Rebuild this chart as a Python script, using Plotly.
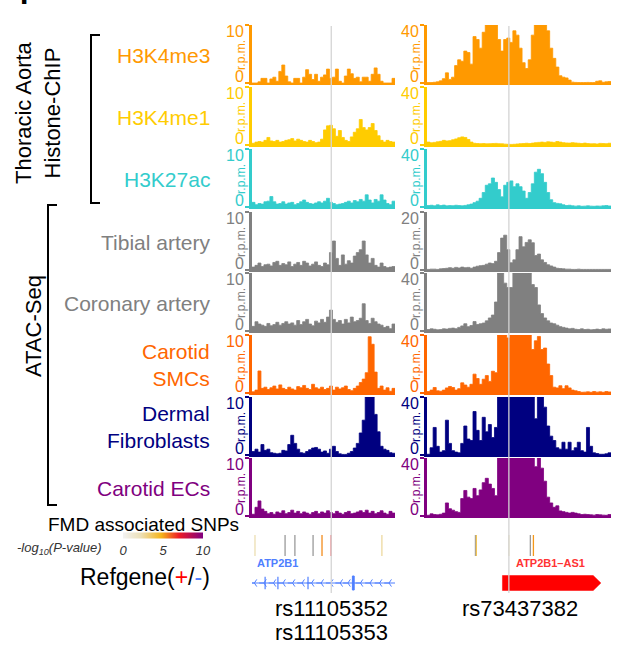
import plotly.graph_objects as go

W, H = 625, 645
FONT = "Arial, Liberation Sans, sans-serif"

# ---------------- data ----------------
track_labels = ["H3K4me3", "H3K4me1", "H3K27ac", "Tibial artery", "Coronary artery",
                "Carotid<br>SMCs", "Dermal<br>Fibroblasts", "Carotid ECs"]
track_colors = ["#FF9900", "#FFCC00", "#33CCCC", "#808080", "#808080",
                "#FF6600", "#000080", "#800080"]
left_ymax = [10, 10, 10, 10, 10, 10, 10, 10]
right_ymax = [40, 40, 40, 20, 40, 40, 40, 40]

# left locus (48 bins), r.p.m.
left_h3k4me3 = [0, 0, 0.2, 0.8, 0.8, 0, 0.7, 1.0, 0.3, 2.0, 3.1, 1.2, 0.2, 0, 0.8, 0.8, 0, 1.0, 2.3, 1.5,
                0.6, 1.5, 0.3, 1.0, 1.4, 2.4, 0.8, 1.0, 2.4, 0.3, 0, 1.2, 2.4, 1.6, 0.8, 1.0, 0.2, 1.0, 1.0, 0.3,
                1.5, 2.6, 1.5, 0.3, 0, 0, 0, 0.8]
left_h3k4me1 = [0.3, 0.5, 0.6, 0.5, 0.8, 1.3, 0.7, 0.6, 0.8, 0.5, 0.6, 0.8, 0.9, 1.1, 0.7, 1.0, 0.8, 0.6, 0.5, 0.8,
                0.6, 0.4, 0.5, 1.0, 2.6, 3.3, 3.4, 2.8, 1.5, 2.5, 1.3, 0.8, 0.6, 1.4, 2.2, 2.8, 4.4, 3.0, 2.6, 3.0,
                3.7, 2.5, 1.6, 0.8, 0.5, 0.8, 0.6, 0.5]
left_h3k27ac = [0.8, 0.4, 0.6, 0.5, 0.9, 1.0, 1.8, 0.9, 0.5, 0.6, 0.9, 0.5, 0.7, 0.8, 0.4, 0.6, 0.9, 1.2, 0.8, 0.6,
                0.5, 0.7, 0.9, 0.7, 1.0, 1.5, 0.8, 0.6, 0.4, 0.5, 0.6, 0.8, 1.0, 0.7, 1.1, 0.9, 1.3, 1.0, 2.1, 1.2,
                0.7, 1.3, 1.0, 2.1, 1.2, 0.6, 0.4, 1.0]
left_tibial = [0.5, 0.8, 1.2, 0.6, 0.9, 1.0, 0.7, 1.3, 1.5, 0.8, 1.1, 0.9, 1.4, 0.6, 1.0, 1.3, 0.8, 1.5, 1.2, 0.7,
               1.0, 1.4, 0.8, 0.6, 1.2, 0.9, 3.0, 5.0, 2.0, 0.8, 2.6, 1.0, 1.6, 1.2, 2.4, 3.0, 3.5, 5.0, 2.6, 1.2,
               2.0, 0.8, 0.5, 1.2, 0.6, 0.4, 0.5, 0.6]
left_coronary = [0.8, 1.6, 1.2, 1.0, 0.8, 1.3, 0.9, 1.1, 1.5, 1.0, 1.3, 1.6, 1.2, 1.4, 1.0, 1.8, 1.1, 1.6, 2.0, 1.2,
                 0.9, 1.7, 1.4, 2.0, 1.5, 2.4, 3.6, 2.0, 1.5, 1.8, 1.2, 2.0, 1.4, 2.4, 1.6, 1.8, 2.2, 4.7, 1.8, 1.3,
                 2.2, 1.6, 1.2, 1.0, 0.6, 0.8, 0.4, 1.2]
left_carotid_smc = [0.2, 0.5, 3.8, 0.8, 1.0, 0.6, 0.9, 1.2, 0.7, 1.4, 0.8, 0.6, 1.0, 0.7, 0.5, 1.1, 0.9, 1.3, 0.8, 0.6,
                    1.5, 0.9, 0.7, 1.0, 0.6, 0.8, 1.2, 0.5, 1.0, 0.7, 0.9, 1.2, 0.6, 0.4, 0.8, 1.2, 1.8, 2.4, 3.5, 9.7,
                    8.4, 3.6, 0.8, 1.2, 0.5, 0.9, 0.3, 0.8]
left_dermal_fb = [0.6, 1.0, 0.5, 1.8, 0.8, 1.0, 0.4, 0.3, 0.2, 0.3, 0.8, 0.7, 1.8, 3.4, 2.0, 1.0, 0.4, 0.3, 0.6, 0.9,
                  1.2, 1.3, 1.0, 0.5, 0.7, 0.3, 1.0, 1.5, 0.6, 0.2, 0.1, 0.1, 0.3, 0.6, 1.2, 2.0, 3.8, 6.0, 10, 10,
                  10, 7.0, 4.0, 1.5, 1.0, 0.8, 0.4, 0.3]
left_carotid_ec = [0.3, 1.5, 2.6, 1.2, 0.8, 0.4, 0.6, 0.3, 0.7, 0.5, 0.9, 0.4, 0.6, 1.0, 0.5, 0.8, 0.4, 0.7, 0.5, 0.3,
                   0.6, 0.8, 0.4, 0.7, 0.5, 0.9, 0.6, 0.4, 0.8, 0.5, 0.3, 0.6, 0.8, 0.4, 0.5, 0.7, 0.9, 0.6, 1.0, 0.5,
                   0.8, 0.4, 0.6, 0.9, 0.5, 0.3, 0.8, 0.5]

# right locus (60 bins), r.p.m.
right_h3k4me3 = [0.3, 0.3, 0.5, 0.8, 1.5, 3.0, 7.0, 2.5, 4.0, 12, 16, 15, 22, 21, 13, 32, 30, 24, 35, 40,
                 40, 40, 40, 30, 22, 30, 31, 28, 36, 33, 24, 14, 10, 16, 33, 40, 40, 40, 40, 36,
                 24, 17, 11, 5, 4, 3.5, 2, 0.6, 0.4, 0.3, 0.3, 0.3, 0.4, 0.3, 0.3, 1.2, 1.5, 0.5, 0.8, 1.0]
right_h3k4me1 = [2.0, 1.5, 1.8, 2.2, 2.5, 3.2, 2.8, 3.0, 3.6, 4.2, 5.0, 5.6, 5.2, 3.8, 2.0, 1.2, 1.0, 0.9, 1.0, 0.8,
                 0.9, 1.0, 1.1, 0.9, 0.8, 0.6, 0.5, 0.4, 0.5, 0.7, 0.9, 1.0, 1.2, 1.0, 1.3, 1.6, 1.8, 2.0, 1.8, 2.2,
                 2.0, 1.8, 2.4, 2.0, 1.6, 1.4, 1.3, 1.6, 1.4, 1.2, 1.0, 1.3, 1.0, 0.8, 0.9, 0.7, 1.1, 1.0, 0.9, 1.2]
right_h3k27ac = [1.0, 1.2, 0.8, 1.5, 1.0, 1.3, 0.8, 1.0, 0.9, 1.2, 1.0, 0.8, 1.1, 1.5, 2.0, 3.0, 4.0, 6.0, 10, 15,
                 16, 20, 17, 12, 7, 15, 17, 18, 14, 16, 14, 11, 6, 10, 16, 24, 26, 23, 17, 10,
                 5, 3, 2.5, 2.2, 1.5, 1.0, 1.2, 0.8, 0.6, 0.8, 0.5, 0.6, 0.8, 0.6, 0.5, 0.7, 0.6, 0.8, 1.0, 0.7]
right_tibial = [0.2, 0.3, 0.3, 0.2, 0.4, 0.5, 0.6, 0.8, 0.6, 0.9, 0.7, 1.0, 0.8, 0.9, 0.6, 1.0, 1.3, 1.5, 1.6, 2.0,
                2.4, 2.2, 3.0, 6.0, 11, 12, 7, 2.5, 3.5, 7.0, 11.5, 8, 9.5, 10.4, 9.4, 5, 5.5, 3.5, 2.6, 1.8,
                1.4, 1.0, 0.6, 0.5, 0.4, 0.3, 0.3, 0.2, 0.2, 0.3, 0.2, 0.2, 0.2, 0.2, 0.2, 0.2, 0.2, 0.2, 0.2, 0.2]
right_coronary = [1.0, 1.5, 1.2, 0.8, 1.0, 1.5, 1.3, 1.8, 2.0, 1.6, 2.5, 3.5, 5.0, 3.0, 3.8, 6.5, 4.5, 5.0, 5.5, 7.0,
                  9.0, 11, 20, 40, 40, 33, 30, 30, 40, 40, 40, 40, 40, 40, 32, 30, 18, 12, 9, 7,
                  5.5, 5.0, 4.0, 3.0, 2.5, 2.0, 1.5, 1.8, 1.2, 1.0, 1.5, 1.0, 1.2, 0.8, 1.0, 1.3, 1.0, 1.5, 1.2, 1.4]
right_carotid_smc = [1.0, 2.0, 3.8, 1.5, 1.2, 2.0, 3.5, 4.5, 3.8, 2.0, 3.0, 7.0, 5.5, 4.0, 6.0, 13, 10, 6.0, 9.5, 12,
                     8.0, 15, 14, 40, 40, 40, 38, 40, 40, 40, 40, 40, 40, 40, 30, 36, 39, 30, 31, 20,
                     12, 4.0, 3.5, 5.0, 3.0, 5.0, 3.5, 2.0, 1.5, 1.0, 0.5, 0.6, 0.8, 0.5, 1.0, 0.6, 0.8, 0.5, 1.0, 0.7]
right_dermal_fb = [0.5, 5, 19, 6, 2, 3, 24, 8, 3, 2, 1.5, 8, 20, 11, 10, 30, 17, 10, 26, 16,
                   21, 12, 19, 40, 40, 40, 40, 40, 40, 40, 40, 40, 40, 40, 40, 25, 40, 40, 33, 20,
                   13, 10, 5, 4, 8.8, 4, 8.8, 3, 5, 8.8, 3, 2, 19, 6, 1.5, 1.0, 0.5, 0.5, 0.8, 1.5]
right_carotid_ec = [0.5, 1.5, 1.0, 0.8, 1.2, 2.0, 9, 5, 4, 3, 2.5, 12, 17.6, 13, 12, 19, 14, 18, 23, 26,
                    22, 19, 14, 40, 40, 40, 40, 40, 40, 40, 40, 40, 40, 40, 40, 34, 40, 33, 24, 13,
                    9, 6, 7, 3.5, 3, 2.5, 2, 2.5, 2, 1.5, 1, 1.2, 1, 0.8, 0.6, 1.0, 0.8, 0.6, 0.5, 1.0]

left_signals = [left_h3k4me3, left_h3k4me1, left_h3k27ac, left_tibial, left_coronary,
                left_carotid_smc, left_dermal_fb, left_carotid_ec]
right_signals = [right_h3k4me3, right_h3k4me1, right_h3k27ac, right_tibial, right_coronary,
                 right_carotid_smc, right_dermal_fb, right_carotid_ec]

# FMD associated SNPs (position in bin units, -log10 P; None = not coloured)
left_snp_pos = [1.0, 11.1, 14.4, 20.5, 23.5, 26.6, 43.6]
left_snp_logp = [2.3, None, None, None, 5.4, 7.0, 2.6]
right_snp_pos = [15.8, 16.1, 26.7, 33.7, 34.7]
right_snp_logp = [None, 3.8, 2.0, None, 5.2]
lead_snp_left = 26.6
lead_snp_right = 26.7
lead_snp_names_left = ["rs11105352", "rs11105353"]
lead_snp_names_right = ["rs73437382"]

# Refgene
atp2b1_span = [0, 48]
atp2b1_exons = [4.4, 8.7, 18.8]
atp2b1_big_exon = [33.7, 34.3]
atp2b1_chevrons = [0.8, 4.0, 7.2, 10.4, 13.6, 16.8, 20.0, 23.2, 26.4, 29.6, 32.2, 36.4, 39.6, 42.8, 46.0]
as1_span = [24.6, 54.2, 56.7]

pval_colorscale = [[0, "#f2f2f2"], [0.22, "#ece0b8"], [0.48, "#f5b418"],
                   [0.7, "#ee1c25"], [1, "#800080"]]

# ---------------- geometry (pixels) ----------------
track_top_px = [25, 87, 149, 212, 273, 335, 397, 458]
track_h = 58
panel_px = [(252, 395), (427, 611)]
snp_row_px = (535, 556)
gene_row_px = (557, 600)


def px_x(p):
    return p / W


def px_y(p):
    return 1 - p / H


def ids(k):
    s = "" if k == 1 else str(k)
    return "xaxis" + s, "yaxis" + s, "x" + s, "y" + s


layout_axes = {}
traces = []
annotations = []
shapes = []
k = 0
first_axis_of_panel = []

for p, (x0, x1) in enumerate(panel_px):
    sigs = left_signals if p == 0 else right_signals
    ymaxs = left_ymax if p == 0 else right_ymax
    for i in range(8):
        k += 1
        xa, ya, xr, yr = ids(k)
        if i == 0:
            first_axis_of_panel.append(xr)
        col = track_colors[i]
        top = track_top_px[i]
        bot = top + track_h
        vals = sigs[i]
        n = len(vals)
        ymax = ymaxs[i]
        layout_axes[xa] = dict(domain=[px_x(x0), px_x(x1)], range=[0, n], anchor=yr,
                               showline=True, linecolor=col, linewidth=1.5,
                               showticklabels=False, ticks="", showgrid=False, zeroline=False)
        layout_axes[ya] = dict(domain=[px_y(bot), px_y(top)], range=[0, ymax], anchor=xr,
                               showline=True, linecolor=col, linewidth=3, ticks="outside",
                               ticklen=4, tickwidth=2, tickcolor=col, tickvals=[0, ymax],
                               showticklabels=False, showgrid=False, zeroline=False)
        traces.append(go.Scatter(x=list(range(n)) + [n], y=list(vals) + [vals[-1]],
                                 xaxis=xr, yaxis=yr, mode="lines",
                                 line=dict(color=col, width=0.8, shape="hv"),
                                 fill="tozeroy", fillcolor=col, hoverinfo="skip"))
        annotations.append(dict(x=px_x(x0 - 6), y=px_y(top - 4), xref="paper", yref="paper",
                                text=str(ymax), showarrow=False, xanchor="right", yanchor="top",
                                font=dict(size=16, color=col, family=FONT)))
        annotations.append(dict(x=px_x(x0 - 6), y=px_y(bot + 4), xref="paper", yref="paper",
                                text="0", showarrow=False, xanchor="right", yanchor="bottom",
                                font=dict(size=16, color=col, family=FONT)))
        annotations.append(dict(x=px_x(x0 - 11), y=px_y((top + bot) / 2 + 1), xref="paper", yref="paper",
                                text="r.p.m.", showarrow=False, textangle=-90,
                                xanchor="center", yanchor="middle",
                                font=dict(size=12, color=col, family=FONT)))
        if p == 0:
            annotations.append(dict(x=px_x(212), y=px_y((top + bot) / 2 + 1), xref="paper", yref="paper",
                                    text=track_labels[i], showarrow=False, xanchor="right",
                                    yanchor="middle", align="right",
                                    font=dict(size=21, color=col, family=FONT)))

# SNP rows and gene rows
snp_axes = []
gene_axes = []
for p, (x0, x1) in enumerate(panel_px):
    n = len(left_signals[0]) if p == 0 else len(right_signals[0])
    for row, store in ((snp_row_px, snp_axes), (gene_row_px, gene_axes)):
        k += 1
        xa, ya, xr, yr = ids(k)
        store.append((xr, yr))
        layout_axes[xa] = dict(domain=[px_x(x0), px_x(x1)], range=[0, n], anchor=yr, visible=False)
        yrange = [0, 1] if row is snp_row_px else [0, row[1] - row[0]]
        layout_axes[ya] = dict(domain=[px_y(row[1]), px_y(row[0])], range=yrange, anchor=xr, visible=False)

# SNP ticks
for p, (pos, logp) in enumerate(((left_snp_pos, left_snp_logp), (right_snp_pos, right_snp_logp))):
    xr, yr = snp_axes[p]
    cx = [x for x, v in zip(pos, logp) if v is not None]
    cv = [v for v in logp if v is not None]
    gx = [x for x, v in zip(pos, logp) if v is None]
    traces.append(go.Scatter(x=gx, y=[0.5] * len(gx), xaxis=xr, yaxis=yr, mode="markers",
                             marker=dict(symbol="line-ns-open", size=15, color="#9a9a9a",
                                         line=dict(width=1.3)), hoverinfo="skip"))
    traces.append(go.Scatter(
        x=cx, y=[0.5] * len(cx), xaxis=xr, yaxis=yr, mode="markers", hoverinfo="skip",
        marker=dict(symbol="line-ns-open", size=15, color=cv, colorscale=pval_colorscale,
                    cmin=0, cmax=10, line=dict(width=1.3), showscale=(p == 0),
                    colorbar=dict(orientation="h", x=px_x(163), xanchor="center",
                                  y=px_y(542.5), yanchor="middle", len=80, lenmode="pixels",
                                  thickness=6, outlinewidth=0, xpad=0, ypad=0,
                                  tickvals=[0, 5, 10], ticks="",
                                  tickfont=dict(size=13, color="#333333", family=FONT, style="italic")))))

# Genes
gh = gene_row_px[1] - gene_row_px[0]
gy = gene_row_px[1] - 583
xr, yr = gene_axes[0]
blue = "#4F7FFF"
traces.append(go.Scatter(x=atp2b1_span, y=[gy, gy], xaxis=xr, yaxis=yr, mode="lines",
                         line=dict(color=blue, width=1), hoverinfo="skip"))
traces.append(go.Scatter(x=atp2b1_chevrons, y=[gy] * len(atp2b1_chevrons), xaxis=xr, yaxis=yr,
                         mode="markers", marker=dict(symbol="y-left-open", size=6, color=blue,
                                                     line=dict(width=1)), hoverinfo="skip"))
traces.append(go.Scatter(x=atp2b1_exons, y=[gy] * len(atp2b1_exons), xaxis=xr, yaxis=yr,
                         mode="markers", marker=dict(symbol="line-ns-open", size=9, color=blue,
                                                     line=dict(width=1.2)), hoverinfo="skip"))
traces.append(go.Scatter(x=[atp2b1_big_exon[0], atp2b1_big_exon[1], atp2b1_big_exon[1], atp2b1_big_exon[0], atp2b1_big_exon[0]],
                         y=[gy - 7, gy - 7, gy + 7, gy + 7, gy - 7], xaxis=xr, yaxis=yr,
                         mode="lines", fill="toself", fillcolor=blue, line=dict(color=blue, width=1),
                         hoverinfo="skip"))
annotations.append(dict(x=8.4, y=gh - 6, xref=xr, yref=yr, text="<b>ATP2B1</b>", showarrow=False,
                        font=dict(size=11, color=blue, family=FONT)))

xr, yr = gene_axes[1]
red = "#FF0000"
traces.append(go.Scatter(x=[as1_span[0], as1_span[1], as1_span[2], as1_span[1], as1_span[0], as1_span[0]],
                         y=[gy - 7.5, gy - 7.5, gy, gy + 7.5, gy + 7.5, gy - 7.5], xaxis=xr, yaxis=yr,
                         mode="lines", fill="toself", fillcolor=red, line=dict(color=red, width=0.5),
                         hoverinfo="skip"))
annotations.append(dict(x=40.2, y=gh - 6, xref=xr, yref=yr, text="<b>ATP2B1\u2013AS1</b>", showarrow=False,
                        font=dict(size=11, color="#FF3333", family=FONT)))

# lead SNP guide lines
for xr_, pos in ((first_axis_of_panel[0], lead_snp_left), (first_axis_of_panel[1], lead_snp_right)):
    shapes.append(dict(type="line", xref=xr_, yref="paper", x0=pos, x1=pos,
                       y0=px_y(593), y1=px_y(26), line=dict(color="#d4d4d4", width=1.3), layer="above"))

# lead SNP names
annotations.append(dict(x=px_x(273), y=px_y(608), xref="paper", yref="paper", text=lead_snp_names_left[0],
                        showarrow=False, xanchor="left", yanchor="middle", font=dict(size=22, color="black", family=FONT)))
annotations.append(dict(x=px_x(273), y=px_y(632), xref="paper", yref="paper", text=lead_snp_names_left[1],
                        showarrow=False, xanchor="left", yanchor="middle", font=dict(size=22, color="black", family=FONT)))
annotations.append(dict(x=px_x(460), y=px_y(608), xref="paper", yref="paper", text=lead_snp_names_right[0],
                        showarrow=False, xanchor="left", yanchor="middle", font=dict(size=22, color="black", family=FONT)))

# left side legends / group labels
annotations += [
    dict(x=px_x(241), y=px_y(524), xref="paper", yref="paper", text="FMD associated SNPs", showarrow=False,
         xanchor="right", yanchor="middle", font=dict(size=19, color="black", family=FONT)),
    dict(x=px_x(15), y=px_y(548), xref="paper", yref="paper", text="<i>-log<sub>10</sub>(P-value)</i>",
         showarrow=False, xanchor="left", yanchor="middle", font=dict(size=13, color="#333333", family=FONT)),
    dict(x=px_x(145), y=px_y(577), xref="paper", yref="paper",
         text="Refgene(<span style='color:#FF0000'>+</span>/<span style='color:#4F7FFF'>-</span>)",
         showarrow=False, xanchor="center", yanchor="middle", font=dict(size=23, color="black", family=FONT)),
    dict(x=px_x(38), y=px_y(113), xref="paper", yref="paper", text="Thoracic Aorta<br>Histone-ChIP",
         showarrow=False, textangle=-90, xanchor="center", yanchor="middle",
         font=dict(size=22, color="black", family=FONT)),
    dict(x=px_x(33), y=px_y(326), xref="paper", yref="paper", text="ATAC-Seq",
         showarrow=False, textangle=-90, xanchor="center", yanchor="middle",
         font=dict(size=22, color="black", family=FONT)),
    dict(x=px_x(24), y=px_y(12), xref="paper", yref="paper", text="<b>I</b>",
         showarrow=False, xanchor="center", yanchor="bottom", font=dict(size=30, color="black", family=FONT)),
]


def bracket(x, xs, y0, y1):
    return dict(type="path", xref="paper", yref="paper",
                path=f"M {px_x(xs)},{px_y(y0)} L {px_x(x)},{px_y(y0)} L {px_x(x)},{px_y(y1)} L {px_x(xs)},{px_y(y1)}",
                line=dict(color="black", width=2))


shapes.append(bracket(91, 100, 35, 203))
shapes.append(bracket(48, 57, 205, 505))

fig = go.Figure(data=traces)
fig.update_layout(width=W, height=H, margin=dict(l=0, r=0, t=0, b=0),
                  paper_bgcolor="white", plot_bgcolor="rgba(0,0,0,0)", showlegend=False,
                  annotations=annotations, shapes=shapes, font=dict(family=FONT),
                  **layout_axes)
fig.write_html("out.html", config={"displayModeBar": False, "staticPlot": True},
               post_script="document.body.style.margin='0px';")
